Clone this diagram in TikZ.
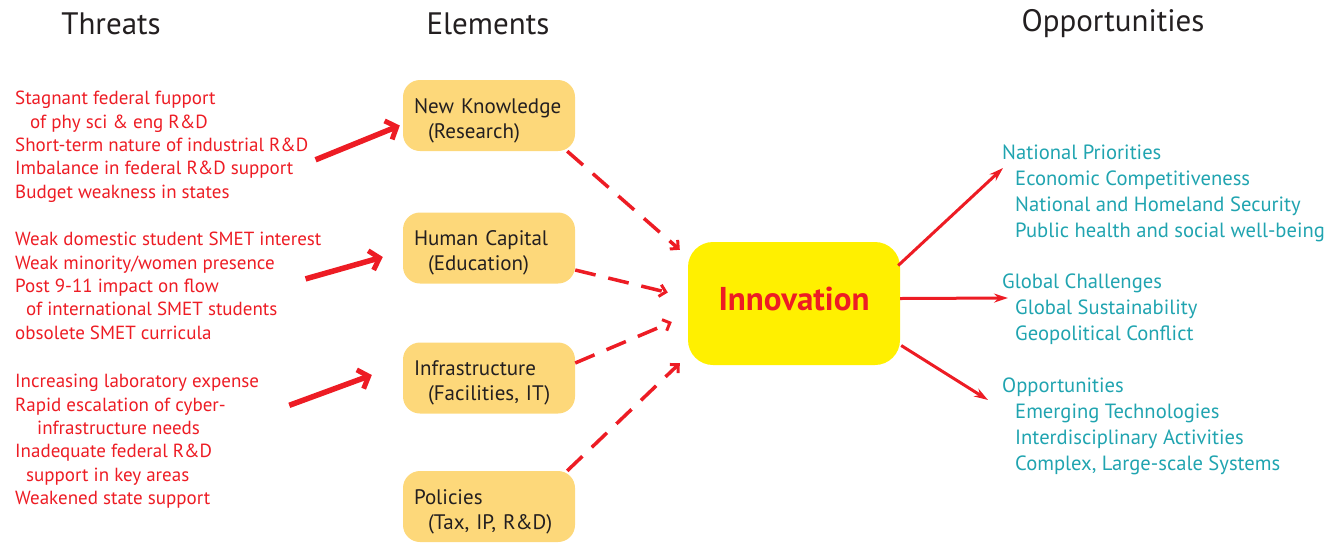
\documentclass[tikz,border=0pt]{standalone}
\usepackage{fontspec}
\setmainfont{PT Sans}
\usepackage{xcolor}
\usepackage{tikz}
\usetikzlibrary{arrows, arrows.meta}
\definecolor{threatred}{RGB}{237,28,36}
\definecolor{oppteal}{RGB}{32,164,176}
\definecolor{boxorange}{RGB}{253,216,122}
\definecolor{innoyellow}{RGB}{255,240,0}
\definecolor{darktext}{RGB}{35,31,32}

\begin{document}
\begin{tikzpicture}[x=1pt, y=-1pt]
\tikzstyle{heading}=[font=\fontsize{31}{36}\selectfont, text=darktext, inner sep=0pt]
\tikzstyle{threat}=[anchor=north west, align=left, inner sep=0pt, text=threatred, font=\fontsize{19}{23.4}\selectfont]
\tikzstyle{opport}=[anchor=north west, align=left, inner sep=0pt, text=oppteal, font=\fontsize{20.6}{25.8}\selectfont]
\tikzstyle{element}=[rectangle, rounded corners=17pt, fill=boxorange, minimum width=172pt, minimum height=71pt, inner sep=0pt]
\tikzstyle{elabel}=[text width=150pt, align=left, inner sep=0pt, text=darktext, font=\fontsize{21}{25}\selectfont]
\tikzstyle{push}=[draw=threatred, line width=5.5pt, -{Straight Barb[length=9pt, width=20pt, line width=5pt]}]
\tikzstyle{feed}=[draw=threatred, line width=3.5pt, dash pattern=on 21pt off 13pt, -{Straight Barb[length=6pt, width=12pt, line width=3pt]}]
\tikzstyle{lead}=[draw=threatred, line width=3pt, -{Stealth[length=14pt, width=9pt]}]
\useasboundingbox (0,0) rectangle (1337,542);

\node[heading] (hthreat) at (111,24) {Threats};
\node[heading] (helement) at (488,24) {Elements};
\node[heading] (hopp) at (1113,24) {Opportunities};

\node[threat] (t1) at (15,91) {Stagnant federal fupport\\\hspace*{15pt}of phy sci \& eng R\&D\\Short-term nature of industrial R\&D\\Imbalance in federal R\&D support\\Budget weakness in states};
\node[threat] (t2) at (15,232) {Weak domestic student SMET interest\\Weak minority/women presence\\Post 9-11 impact on flow\\\hspace*{11pt}of international SMET students\\obsolete SMET curricula};
\node[threat] (t3) at (15,374) {Increasing laboratory expense\\Rapid escalation of cyber-\\\hspace*{22pt}infrastructure needs\\Inadequate federal R\&D\\\hspace*{11pt}support in key areas\\Weakened state support};

\node[element] (b1) at (489,115.5) {};
\node[element] (b2) at (489,248) {};
\node[element] (b3) at (489,378) {};
\node[element] (b4) at (489,506.5) {};
\node[elabel] (k1) at ([yshift=-5pt]b1) {New Knowledge\\\hspace*{14pt}(Research)};
\node[elabel] (k2) at ([yshift=-5pt]b2) {Human Capital\\\hspace*{14pt}(Education)};
\node[elabel] (k3) at ([yshift=-5pt]b3) {Infrastructure\\\hspace*{14pt}(Facilities, IT)};
\node[elabel] (k4) at ([yshift=-5pt]b4) {Policies\\\hspace*{14pt}(Tax, IP, R\&D)};

\node[rectangle, rounded corners=25pt, fill=innoyellow, minimum width=212pt, minimum height=123pt, text=threatred, font=\bfseries\fontsize{33}{38}\selectfont] (inno) at (794,303.5) {\raisebox{4.5pt}[\height][\depth]{Innovation}};

\node[opport] (r1) at (1002,145) {National Priorities\\\hspace*{13pt}Economic Competitiveness\\\hspace*{13pt}National and Homeland Security\\\hspace*{13pt}Public health and social well-being};
\node[opport] (r2) at (1002,274) {Global Challenges\\\hspace*{13pt}Global Sustainability\\\hspace*{13pt}Geopolitical Conflict};
\node[opport] (r3) at (1002,378) {Opportunities\\\hspace*{13pt}Emerging Technologies\\\hspace*{13pt}Interdisciplinary Activities\\\hspace*{13pt}Complex, Large-scale Systems};

\path
([shift={(7,13)}]t1.east) edge[push] ([shift={(-3,10)}]b1.west)
([shift={(-16,-7)}]t2.east) edge[push] ([shift={(-20,9)}]b2.west)
([shift={(30,-36)}]t3.east) edge[push] ([shift={(-31,-3)}]b3.west);

\path
([shift={(-8,0)}]b1.south east) edge[feed] ([shift={(-8,8)}]inno.north west)
([shift={(0,22)}]b2.east) edge[feed] ([shift={(-20,-11)}]inno.west)
([shift={(0,-15)}]b3.east) edge[feed] ([shift={(-16,18.5)}]inno.west)
([shift={(-8,0)}]b4.north east) edge[feed] ([shift={(-8,-2)}]inno.south west);

\path
([shift={(-2,-38)}]inno.east) edge[lead] ([shift={(1,23)}]r1.north west)
([shift={(0,-5)}]inno.east) edge[lead] ([shift={(6,24)}]r2.north west)
([shift={(1,42)}]inno.east) edge[lead] ([shift={(-14,22)}]r3.north west);

\end{tikzpicture}
\end{document}
